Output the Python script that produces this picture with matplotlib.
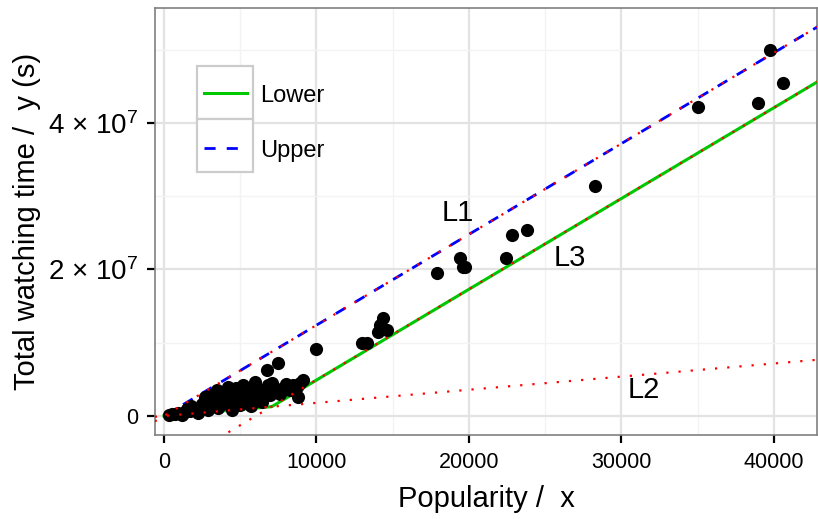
import matplotlib
matplotlib.use("Agg")
import matplotlib.pyplot as plt
from matplotlib.patches import Rectangle
from matplotlib.ticker import FixedLocator

plt.rcParams['font.family'] = ['Liberation Sans', 'DejaVu Sans']
plt.rcParams['mathtext.fontset'] = 'custom'
plt.rcParams['mathtext.rm'] = 'Liberation Sans'
plt.rcParams['mathtext.it'] = 'Liberation Sans:italic'

# observed points (popularity, total watching time in s)
pop = [524, 917, 1179, 1375, 1703, 2030, 2227, 2358, 2685, 2882,
       3144, 3340, 3536, 3667, 3798, 3995, 4191, 4322, 4453, 4650,
       4846, 4977, 5174, 5305, 5501, 5632, 5829, 5960, 6156, 6287,
       6418, 6614, 6811, 6942, 7269, 7597, 7793, 7990, 8252, 8448,
       8710, 8907, 9103, 8776, 7466, 6745, 7073, 9954, 300, 700,
       1500, 2500, 3200, 3900, 4400, 5000, 5700, 6400,
       3500, 4200, 5200, 6000, 4700, 2700, 1800, 3000, 5500,
       12967, 13294, 14015, 14342, 14604, 14145, 17879, 19385, 19581, 19712,
       22463, 22856, 23838, 28292, 35037, 38966, 39752, 40603]
watch = [2.7e5, 4.1e5, 1.4e5, 5.5e5, 6.8e5, 8.2e5, 4.1e5, 1.09e6, 1.50e6, 8.2e5,
         1.64e6, 2.18e6, 1.09e6, 2.46e6, 1.64e6, 2.87e6, 1.91e6, 2.87e6, 8.2e5, 2.18e6,
         3.28e6, 1.50e6, 2.59e6, 3.55e6, 1.91e6, 2.87e6, 3.82e6, 2.18e6, 3.00e6, 3.55e6,
         2.46e6, 3.28e6, 4.23e6, 2.87e6, 3.55e6, 3.00e6, 3.82e6, 4.37e6, 3.55e6, 4.23e6,
         3.96e6, 4.50e6, 4.91e6, 2.59e6, 7.23e6, 6.28e6, 4.50e6, 9.15e6, 1.5e5, 3.0e5,
         1.0e6, 1.6e6, 2.6e6, 3.3e6, 1.2e6, 2.2e6, 1.4e6, 1.9e6,
         3.5e6, 4.0e6, 4.2e6, 4.6e6, 3.8e6, 2.6e6, 1.4e6, 2.9e6, 3.3e6,
         9.97e6, 9.97e6, 1.147e7, 1.338e7, 1.174e7, 1.24e7, 1.952e7, 2.157e7, 2.034e7, 2.034e7,
         2.157e7, 2.471e7, 2.539e7, 3.140e7, 4.218e7, 4.273e7, 4.996e7, 4.545e7]

# bound lines
l1_x = [-600, 43000]
l1_y = [-7.4e5, 5.33e7]
l2_x = [-600, 43000]
l2_y = [-1.1e5, 7.7e6]
l3_x = [-600, 43000]
l3_y = [-8.2e6, 4.58e7]
lower_x = [0, 7070, 43000]
lower_y = [0, 1.27e6, 4.58e7]
upper_x = [0, 43000]
upper_y = [0, 5.33e7]

x_ticks = [0, 10000, 20000, 30000, 40000]
y_ticks = [0, 2e7, 4e7]
y_tick_labels = ["0", "2 \u00d7 10$^{7}$", "4 \u00d7 10$^{7}$"]

fig = plt.figure(figsize=(8.18, 5.19), dpi=100)
ax = fig.add_axes([155 / 818, 84 / 519, 662 / 818, 427 / 519])

ax.set_xlim(-590, 42830)
ax.set_ylim(-2.6e6, 5.57e7)

# grid like ggplot theme_bw
ax.set_xticks(x_ticks)
ax.set_yticks(y_ticks, labels=y_tick_labels)
ax.xaxis.set_minor_locator(FixedLocator([5000, 15000, 25000, 35000]))
ax.yaxis.set_minor_locator(FixedLocator([1e7, 3e7, 5e7]))
ax.grid(which='major', color='#e3e3e3', lw=1.6)
ax.grid(which='minor', color='#f3f3f3', lw=1.0)
ax.set_axisbelow(True)
ax.tick_params(which='minor', length=0)
ax.tick_params(which='major', length=6, width=1.6, color='black',
               labelsize=15.5, pad=6)
for lbl in ax.get_yticklabels()[1:]:
    lbl.set_fontsize(20)
for s in ax.spines.values():
    s.set_color('#808080')
    s.set_linewidth(1.2)

ax.plot(lower_x, lower_y, color='#00c800', lw=2.2, zorder=3)
ax.plot(upper_x, upper_y, color='#0000ff', lw=2.0, dashes=(4, 4), zorder=3)
ax.scatter(pop, watch, s=90, color='black', zorder=4, linewidths=0)
for lx, ly in [(l1_x, l1_y), (l2_x, l2_y), (l3_x, l3_y)]:
    ax.plot(lx, ly, color='#ff0000', lw=1.6, dashes=(1, 4.5), zorder=5)

ax.text(19250, 2.77e7, "L1", fontsize=21, ha='center', va='center')
ax.text(26600, 2.16e7, "L3", fontsize=21, ha='center', va='center')
ax.text(31500, 3.5e6, "L2", fontsize=21, ha='center', va='center')

ax.set_xlabel("Popularity /  x", fontsize=21, labelpad=9)
ax.set_ylabel("Total watching time /  y (s)", fontsize=21, labelpad=5)

# legend drawn as ggplot-style key boxes
tr = ax.transAxes
for y0 in [0.740, 0.616]:
    ax.add_patch(Rectangle((0.0634, y0), 0.0846, 0.124, transform=tr,
                           facecolor='white', edgecolor='#cccccc', lw=1.6, zorder=6))
ax.plot([0.074, 0.139], [0.801, 0.801], transform=tr, color='#00c800', lw=2.2, zorder=7)
ax.plot([0.074, 0.139], [0.672, 0.672], transform=tr, color='#0000ff', lw=2.0,
        dashes=(4, 4), zorder=7)
ax.text(0.159, 0.793, "Lower", transform=tr, fontsize=17, va='center', zorder=7)
ax.text(0.159, 0.664, "Upper", transform=tr, fontsize=17, va='center', zorder=7)

fig.savefig("out.png", dpi=100)
